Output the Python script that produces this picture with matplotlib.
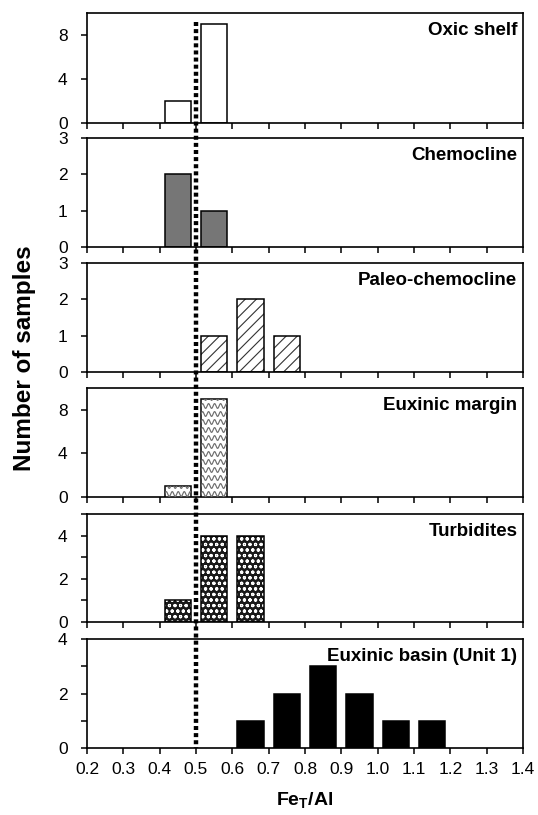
import numpy as np
import matplotlib
matplotlib.use("Agg")
import matplotlib.pyplot as plt
from matplotlib import font_manager
from matplotlib.transforms import blended_transform_factory, IdentityTransform
from matplotlib.lines import Line2D

# ---------------- data ----------------
bin_centers = [0.45, 0.55, 0.65, 0.75, 0.85, 0.95, 1.05, 1.15]
oxic_shelf = [2, 9, 0, 0, 0, 0, 0, 0]
chemocline = [2, 1, 0, 0, 0, 0, 0, 0]
paleo_chemocline = [0, 1, 2, 1, 0, 0, 0, 0]
euxinic_margin = [1, 9, 0, 0, 0, 0, 0, 0]
turbidites = [1, 4, 4, 0, 0, 0, 0, 0]
euxinic_basin = [0, 0, 1, 2, 3, 2, 1, 1]
panel_titles = ["Oxic shelf", "Chemocline", "Paleo-chemocline",
                "Euxinic margin", "Turbidites", "Euxinic basin (Unit 1)"]
panel_ylims = [10, 3, 3, 10, 5, 4]
panel_yticks = [[0, 4, 8], [0, 1, 2, 3], [0, 1, 2, 3], [0, 4, 8], [0, 2, 4], [0, 2, 4]]
panel_yminor = [[], [], [], [], [1, 3, 5], [1, 3]]
xticks = [0.2, 0.3, 0.4, 0.5, 0.6, 0.7, 0.8, 0.9, 1.0, 1.1, 1.2, 1.3, 1.4]
threshold = 0.5
bar_width = 0.072

# ---------------- fonts ----------------
names = {f.name for f in font_manager.fontManager.ttflist}
narrow = "Liberation Sans Narrow" in names
plt.rcParams['font.family'] = ['Liberation Sans', 'DejaVu Sans']
plt.rcParams['mathtext.fontset'] = 'custom'
plt.rcParams['mathtext.bf'] = 'Liberation Sans:bold'
plt.rcParams['mathtext.rm'] = 'Liberation Sans'
plt.rcParams['hatch.linewidth'] = 0.8

W, H = 538, 815
fig = plt.figure(figsize=(W / 100, H / 100), dpi=100)

left_px, right_px = 87, 523
panel_px = [(13, 123), (138, 247), (263, 372), (388, 497), (514, 622), (639, 748)]

axes = []
for i, (top, bot) in enumerate(panel_px):
    ax = fig.add_axes([left_px / W, 1 - bot / H, (right_px - left_px) / W, (bot - top) / H])
    axes.append(ax)
    ax.set_xlim(0.2, 1.4)
    ax.set_ylim(0, panel_ylims[i])
    ax.set_xticks(xticks)
    ax.set_yticks(panel_yticks[i])
    if panel_yminor[i]:
        ax.set_yticks(panel_yminor[i], minor=True)
    ax.tick_params(axis='both', direction='out', length=4, width=1.1, labelsize=12.5)
    ax.tick_params(axis='y', which='minor', direction='out', length=4, width=1.1)
    ax.tick_params(axis='y', pad=10)
    ax.tick_params(axis='x', pad=6)
    if i < 5:
        ax.set_xticklabels([])
    else:
        ax.set_xticklabels([f"{t:.1f}" for t in xticks], fontsize=12.5)
    for s in ax.spines.values():
        s.set_linewidth(1.2)
    ax.text(0.987, 1 - 9 / (bot - top), panel_titles[i], transform=ax.transAxes,
            ha='right', va='top', fontsize=13.5, fontweight='bold')

vals_x = np.array(bin_centers)

def nz(v):
    v = np.array(v)
    m = v > 0
    return vals_x[m], v[m]

# Oxic shelf: white
x, y = nz(oxic_shelf)
axes[0].bar(x, y, width=bar_width, facecolor='white', edgecolor='black', linewidth=1.1, zorder=2)
# Chemocline: gray
x, y = nz(chemocline)
axes[1].bar(x, y, width=bar_width, facecolor='#767676', edgecolor='black', linewidth=1.1, zorder=2)
# Paleo-chemocline: hatched
x, y = nz(paleo_chemocline)
axes[2].bar(x, y, width=bar_width, facecolor='white', edgecolor='#333333', hatch='///', linewidth=0, zorder=2)
axes[2].bar(x, y, width=bar_width, facecolor='none', edgecolor='black', linewidth=1.1, zorder=3)
# Euxinic margin: wavy pattern
x, y = nz(euxinic_margin)
bars = axes[3].bar(x, y, width=bar_width, facecolor='white', edgecolor='black', linewidth=1.1, zorder=3)
fig.canvas.draw()
for b in bars:
    bb = b.get_window_extent()
    ys = np.arange(bb.y0 + 3, bb.y1 + 8, 8.0)
    xs = np.linspace(bb.x0 - 2, bb.x1 + 2, 300)
    for yy in ys:
        wave = yy + 2.4 * np.sin(2 * np.pi * (xs - bb.x0) / 6.0)
        ln = Line2D(xs, wave, transform=IdentityTransform(), color='#6e6e6e', lw=0.85, zorder=3.5)
        fig.add_artist(ln)
        ln.set_clip_path(b)
# Turbidites: dark with white rings
x, y = nz(turbidites)
axes[4].bar(x, y, width=bar_width, facecolor='#1a1a1a', edgecolor='white', hatch='ooo', linewidth=0, zorder=2)
axes[4].bar(x, y, width=bar_width, facecolor='none', edgecolor='black', linewidth=1.1, zorder=3)
# Euxinic basin: black
x, y = nz(euxinic_basin)
axes[5].bar(x, y, width=bar_width, facecolor='black', edgecolor='black', linewidth=1.1, zorder=2)

# dotted threshold line spanning all panels
tr = blended_transform_factory(axes[5].transData, fig.transFigure)
fig.add_artist(Line2D([threshold, threshold], [1 - 22 / H, 1 - 748 / H], transform=tr,
                      color='black', lw=3.2, linestyle=(0, (0.9, 0.7)), zorder=10))

# labels
if narrow:
    fig.text(25 / W, 1 - 358 / H, "Number of samples", rotation=90, ha='center', va='center',
             fontsize=20, fontweight='bold', family=['Liberation Sans Narrow', 'DejaVu Sans'])
else:
    fig.text(25 / W, 1 - 358 / H, "Number of samples", rotation=90, ha='center', va='center',
             fontsize=17.5, fontweight='bold')
fig.text(305 / W, 1 - 800 / H, r'$\mathbf{Fe_{T}/Al}$', ha='center', va='center', fontsize=14)

fig.savefig("out.png", dpi=100)
